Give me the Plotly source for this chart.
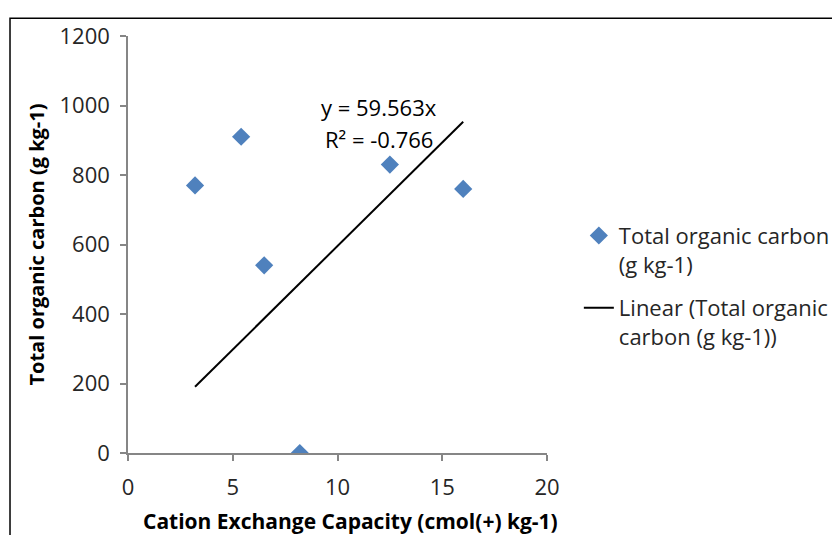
import plotly.graph_objects as go

# Data
cec = [3.2, 5.4, 6.5, 8.2, 12.5, 16.0]
toc = [770, 910, 540, 0, 830, 760]
slope = 59.563
r2_text = "R² = -0.766"
eq_text = "y = 59.563x"
x_ticks = [0, 5, 10, 15, 20]
y_ticks = [0, 200, 400, 600, 800, 1000, 1200]
x_title = "Cation Exchange Capacity (cmol(+) kg-1)"
y_title = "Total organic carbon (g kg-1)"

trend_x = [min(cec), max(cec)]
trend_y = [slope * v for v in trend_x]

FONT = "Open Sans"
AX = "#868686"

fig = go.Figure()
fig.add_trace(go.Scatter(
    x=cec, y=toc, mode="markers",
    name="Total organic carbon<br>(g kg-1)", legendgroup="pts",
    marker=dict(symbol="diamond", size=14, color="#4F81BD", line=dict(width=0)),
))
fig.add_trace(go.Scatter(
    x=trend_x, y=trend_y, mode="lines",
    name="Linear (Total organic<br>carbon (g kg-1))", legendgroup="fit",
    line=dict(color="black", width=2),
))

fig.add_annotation(x=12.0, y=995, text=eq_text, showarrow=False,
                   font=dict(family=FONT, size=22, color="#000"), xanchor="center", yanchor="middle")
fig.add_annotation(x=12.0, y=904, text=r2_text, showarrow=False,
                   font=dict(family=FONT, size=22, color="#000"), xanchor="center", yanchor="middle")

# x-axis title (placed as annotation to match the original's offset)
fig.add_annotation(xref="paper", yref="paper", x=0.53, y=-0.163,
                   text="<b>" + x_title + "</b>", showarrow=False,
                   font=dict(family=FONT, size=21, color="#000"),
                   xanchor="center", yanchor="middle")

# outer chart border
fig.add_shape(type="rect", xref="paper", yref="paper",
              x0=-0.2816, x1=1.75, y0=-0.3, y1=1.0427,
              line=dict(color="black", width=1.5), fillcolor="rgba(0,0,0,0)", layer="below")

fig.update_layout(
    width=840, height=535,
    margin=dict(l=120, r=301, t=23, b=90),
    paper_bgcolor="white", plot_bgcolor="white",
    font=dict(family=FONT, size=22, color="#262626"),
    showlegend=True,
    legend=dict(x=1.076, y=0.40, xanchor="left", yanchor="middle",
                traceorder="grouped", tracegroupgap=12, valign="top",
                font=dict(family=FONT, size=22, color="#262626"),
                bgcolor="rgba(0,0,0,0)"),
    xaxis=dict(range=[0, 20], tickvals=x_ticks, showgrid=False, zeroline=False,
               showline=True, linecolor=AX, linewidth=1.5,
               ticks="outside", ticklen=6, tickcolor=AX, tickwidth=1.5,
               ticklabelstandoff=8),
    yaxis=dict(range=[0, 1200], tickvals=y_ticks, showgrid=False, zeroline=False,
               showline=True, linecolor=AX, linewidth=1.5,
               ticks="outside", ticklen=6, tickcolor=AX, tickwidth=1.5,
               ticklabelstandoff=6,
               title=dict(text="<b>" + y_title + "</b>",
                          font=dict(family=FONT, size=20, color="#000"), standoff=10)),
)

fig.write_html("out.html")
